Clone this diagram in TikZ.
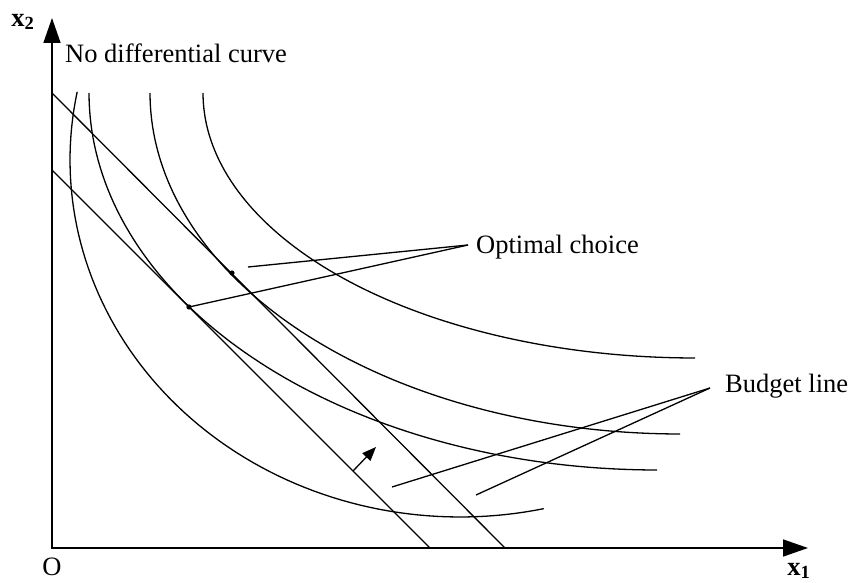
\documentclass[tikz,border=0pt]{standalone}
\usepackage{fontspec}
\setmainfont{Liberation Serif}
\usepackage{tikz}
\usetikzlibrary{
  arrows.meta,
  positioning
}

\begin{document}
\begin{tikzpicture}[x=1pt,y=-1pt,
    every node/.style={font=\fontsize{26.5}{30}\selectfont,inner sep=0pt},
    axis/.style={line width=1.6pt,
      {Triangle[length=25pt,width=17pt]}-{Triangle[length=25pt,width=17pt]}},
    curve/.style={line width=1.3pt},
    pointer/.style={line width=1.3pt},
    shiftarrow/.style={line width=1.3pt,-{Triangle[length=14pt,width=11pt]}}]
  \useasboundingbox (0,0) rectangle (852,583);

  % axes
  \coordinate (ytip) at (52,18);
  \coordinate (O) at (52,548);
  \coordinate (xtip) at (808,548);
  \draw[axis] (ytip) -- (O) -- (xtip);
  \node[font=\fontsize{26.5}{30}\selectfont\bfseries] (x2label) at (23,22) {x\textsubscript{2}};
  \node[font=\fontsize{26.5}{30}\selectfont\bfseries,anchor=south] (x1label) at (799,579) {x\textsubscript{1}};
  \node (olabel) at (52,567) {O};
  \node[anchor=base west] (nodiff) at (65,63) {No differential curve};

  % indifference curves
  \draw[curve] plot[domain=191:77.6,samples=80,variable=\t]
    ({460+390*cos(\t)},{160+357*sin(\t)});
  \draw[curve] plot[domain=180:90,samples=80,variable=\t]
    ({657+568*cos(\t)},{93+377*sin(\t)});
  \draw[curve] plot[domain=180:90,samples=80,variable=\t]
    ({680+530*cos(\t)},{93+341*sin(\t)});
  \draw[curve] plot[domain=180:90,samples=80,variable=\t]
    ({695+492*cos(\t)},{93+265*sin(\t)});

  % budget lines
  \coordinate (in0) at (52,170);
  \coordinate (in1) at (430,548);
  \coordinate (out0) at (52,93);
  \coordinate (out1) at (505,548);
  \draw[curve] (in0) -- (in1);
  \draw[curve] (out0) -- (out1);

  % shift of the budget line
  \coordinate (shiftfrom) at (353,471);
  \coordinate (shiftto) at (376,447);
  \draw[shiftarrow] (shiftfrom) -- (shiftto);

  % optimal choice
  \coordinate (tanin) at (189,307);
  \coordinate (tanout) at (232,273);
  \fill (tanin) circle (2.6pt);
  \fill (tanout) circle (2.6pt);
  \node[anchor=base west] (optimal) at (476,253) {Optimal choice};
  \coordinate (optip) at (468,245);
  \coordinate (opend) at (248,267);
  \draw[pointer] (optip) -- (tanin);
  \draw[pointer] (optip) -- (opend);

  % budget line label
  \node[anchor=base west] (budget) at (725,392) {Budget line};
  \coordinate (bltip) at (710,388);
  \coordinate (blend1) at (392,487);
  \coordinate (blend2) at (476,495);
  \draw[pointer] (bltip) -- (blend1);
  \draw[pointer] (bltip) -- (blend2);
\end{tikzpicture}
\end{document}
